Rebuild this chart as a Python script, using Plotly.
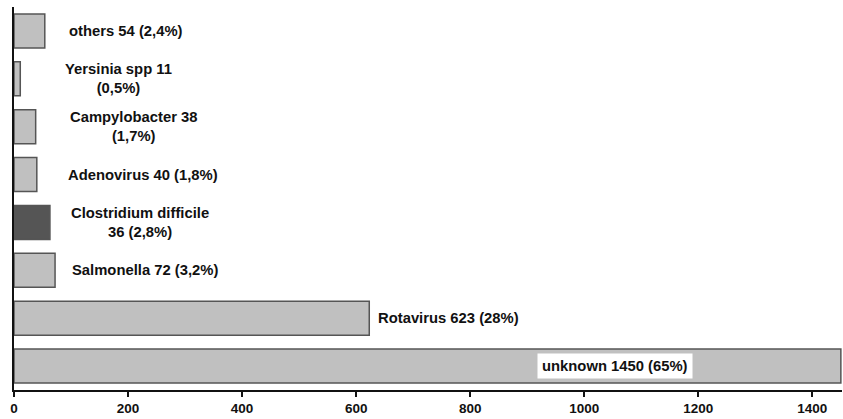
import plotly.graph_objects as go

# Data (bottom to top)
categories = ["unknown", "Rotavirus", "Salmonella", "Clostridium difficile",
              "Adenovirus", "Campylobacter", "Yersinia spp", "others"]
values = [1450, 623, 72, 63, 40, 38, 11, 54]          # bar lengths as drawn
label_counts = [1450, 623, 72, 36, 40, 38, 11, 54]    # numbers printed in labels
label_pcts = ["65%", "28%", "3,2%", "2,8%", "1,8%", "1,7%", "0,5%", "2,4%"]
tick_vals = [0, 200, 400, 600, 800, 1000, 1200, 1400]

# styles
fills = ["#c0c0c0"] * len(categories)
fills[categories.index("Clostridium difficile")] = "#555555"
line_breaks = {"Yersinia spp": True, "Campylobacter": True}
label_shift = {"unknown": -148, "Rotavirus": 7, "Salmonella": 15, "Clostridium difficile": 19,
               "Adenovirus": 29, "Campylobacter": 32, "Yersinia spp": 43, "others": 22}

fig = go.Figure(go.Bar(
    x=values, y=categories, orientation="h",
    marker=dict(color=fills, line=dict(color="#555555", width=1.5)),
    hoverinfo="skip",
))

font_family = "Liberation Sans, Arial, sans-serif"
for cat, v, c, p in zip(categories, values, label_counts, label_pcts):
    if cat == "Clostridium difficile":
        txt = f"{cat}<br>{c} ({p})"
    else:
        sep = "<br>" if line_breaks.get(cat) else " "
        txt = f"{cat} {c}{sep}({p})"
    if cat == "unknown":
        fig.add_annotation(x=v, y=cat, text=txt, xanchor="right",
                           xshift=label_shift[cat], showarrow=False, bgcolor="white",
                           borderpad=4,
                           font=dict(family=font_family, size=14.8, color="#111111", weight="bold"))
    else:
        fig.add_annotation(x=v, y=cat, text=txt, xanchor="left", align="center",
                           xshift=label_shift[cat], showarrow=False,
                           font=dict(family=font_family, size=14.8, color="#111111", weight="bold"))

fig.update_layout(
    width=843, height=419,
    margin=dict(l=14, r=1, t=7, b=29),
    paper_bgcolor="white", plot_bgcolor="white",
    showlegend=False, bargap=0.29,
    xaxis=dict(range=[0, 1452], tickvals=tick_vals, ticks="outside", ticklen=5,
               tickwidth=1.5, tickcolor="#111111", showline=True, linecolor="#111111",
               linewidth=2, showgrid=False, zeroline=False, automargin=False,
               tickfont=dict(family=font_family, size=13.5, color="#111111", weight="bold")),
    yaxis=dict(showticklabels=False, showline=True, linecolor="#111111", linewidth=2,
               showgrid=False, ticks="", range=[-0.5, 7.5], automargin=False),
)

fig.write_html("out.html", config={"displayModeBar": False},
               post_script="document.body.style.margin='0';document.body.style.overflow='hidden';")
